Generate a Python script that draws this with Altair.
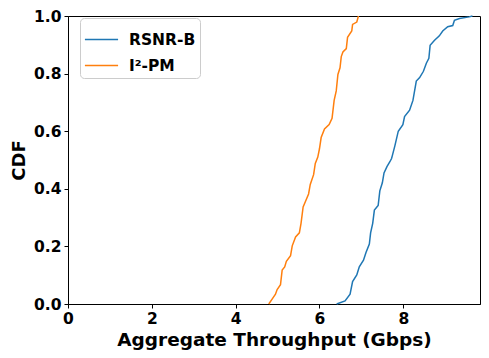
import altair as alt
import pandas as pd

rsnr_x = [6.41, 6.61, 6.73, 6.79, 6.89, 6.95, 7.05, 7.11, 7.19, 7.22, 7.27, 7.31, 7.40, 7.44,
          7.50, 7.54, 7.61, 7.68, 7.72, 7.74, 7.80, 7.88, 7.99, 8.03, 8.15, 8.23, 8.31, 8.39,
          8.48, 8.55, 8.61, 8.64, 8.74, 8.86, 8.94, 9.06, 9.18, 9.22, 9.34, 9.57, 9.65]
rsnr_y = [0.0, 0.011, 0.034, 0.078, 0.101, 0.129, 0.152, 0.179, 0.208, 0.247, 0.28, 0.326,
          0.342, 0.393, 0.421, 0.455, 0.477, 0.494, 0.505, 0.516, 0.55, 0.6, 0.623, 0.651,
          0.673, 0.707, 0.774, 0.786, 0.808, 0.836, 0.853, 0.898, 0.915, 0.931, 0.948, 0.963,
          0.967, 0.985, 0.991, 0.997, 1.0]
ipm_x = [4.79, 4.87, 4.95, 4.99, 5.07, 5.11, 5.17, 5.21, 5.31, 5.35, 5.43, 5.52, 5.56, 5.61,
         5.66, 5.74, 5.78, 5.86, 5.90, 5.96, 6.00, 6.04, 6.12, 6.23, 6.30, 6.35, 6.40, 6.44,
         6.49, 6.52, 6.56, 6.64, 6.67, 6.77, 6.79, 6.89, 6.93]
ipm_y = [0.0, 0.017, 0.034, 0.05, 0.067, 0.118, 0.129, 0.148, 0.168, 0.202, 0.233, 0.247,
         0.28, 0.337, 0.354, 0.382, 0.415, 0.449, 0.488, 0.51, 0.539, 0.578, 0.608, 0.623,
         0.645, 0.707, 0.74, 0.797, 0.82, 0.859, 0.875, 0.887, 0.926, 0.948, 0.971, 0.979, 1.0]
series = ["RSNR-B", "I²-PM"]
colors = ["#1f77b4", "#ff7f0e"]
x_ticks = [0, 2, 4, 6, 8]
y_ticks = [0.0, 0.2, 0.4, 0.6, 0.8, 1.0]

rows = []
for i, (xv, yv) in enumerate(zip(rsnr_x, rsnr_y)):
    rows.append({"s": series[0], "x": xv, "y": yv, "o": i})
for i, (xv, yv) in enumerate(zip(ipm_x, ipm_y)):
    rows.append({"s": series[1], "x": xv, "y": yv, "o": i})
df = pd.DataFrame(rows)

font = "DejaVu Sans"
chart = alt.Chart(df).mark_line(strokeWidth=1.5).encode(
    x=alt.X("x:Q", scale=alt.Scale(domain=[0, 9.83], nice=False, zero=False),
            axis=alt.Axis(values=x_ticks, title="Aggregate Throughput (Gbps)", format="d")),
    y=alt.Y("y:Q", scale=alt.Scale(domain=[0, 1], nice=False),
            axis=alt.Axis(values=y_ticks, title="CDF", format=".1f", titleFontSize=18)),
    color=alt.Color("s:N", scale=alt.Scale(domain=series, range=colors),
                    legend=alt.Legend(title=None, orient="none", legendX=12, legendY=2,
                                      symbolType="stroke", symbolSize=1100, symbolStrokeWidth=1.5,
                                      labelFont=font, labelFontWeight="bold", labelFontSize=15.5,
                                      labelColor="black", rowPadding=-4, padding=4,
                                      strokeColor="#cccccc", cornerRadius=4, fillColor="white",
                                      labelOffset=10)),
    order="o:Q",
).properties(
    width=412, height=288,
    autosize=alt.AutoSizeParams(type="none"),
    padding={"left": 60, "top": 8, "right": 1, "bottom": 46},
).configure_view(
    stroke="black", strokeWidth=1
).configure_axis(
    labelFont=font, labelFontWeight="bold", labelFontSize=15.5, labelColor="black",
    titleFont=font, titleFontWeight="bold", titleFontSize=18.5, titleColor="black",
    domainColor="black", tickColor="black", tickSize=4, labelPadding=3,
    grid=False, labelFlush=False,
).configure_axisX(titlePadding=4).configure_axisY(titlePadding=5)

chart.save("out.html", embed_options={"renderer": "svg", "actions": False})
